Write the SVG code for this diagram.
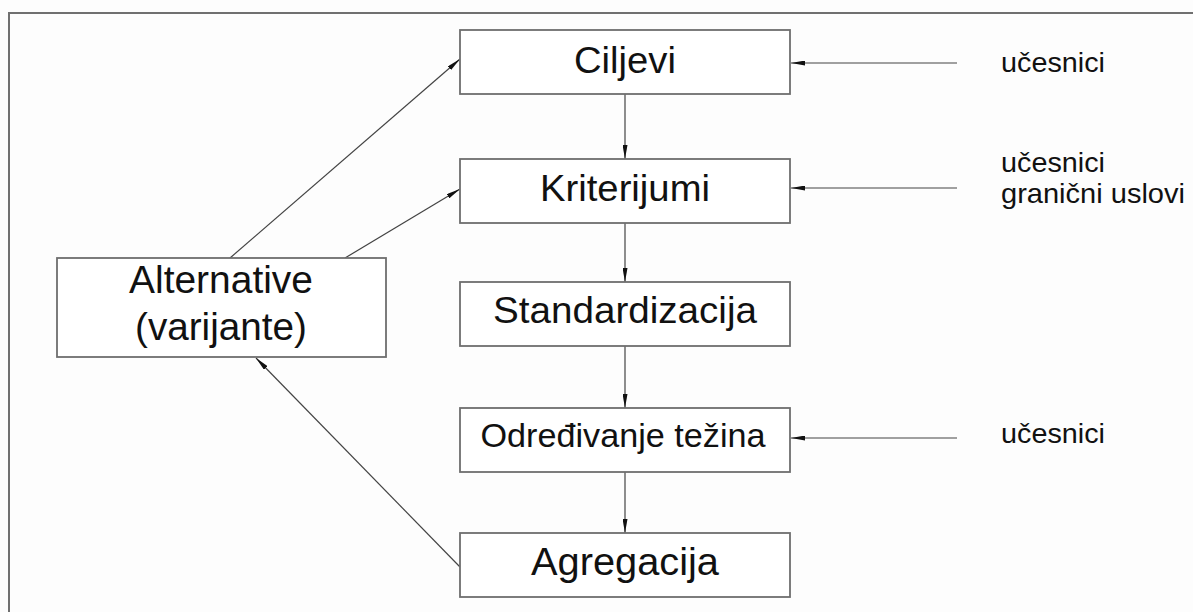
<svg xmlns="http://www.w3.org/2000/svg" width="1193" height="612" viewBox="0 0 1193 612">
<defs>
<style>
.box{fill:#fff;stroke:#6e6e6e;stroke-width:1.8}
.t{font-family:"Liberation Sans",Arial,sans-serif;fill:#111;text-anchor:middle}
.lbl{font-family:"Liberation Sans",Arial,sans-serif;fill:#111;font-size:28.5px}
.c{stroke:#444;stroke-width:1.2;fill:none;marker-end:url(#ah)}
</style>
<marker id="ah" viewBox="0 0 14 5" refX="14" refY="2.5" markerWidth="14" markerHeight="5" markerUnits="userSpaceOnUse" orient="auto">
<path d="M0,0 L14,2.5 L0,5 Z" fill="#111"/>
</marker>
</defs>
<rect width="1193" height="612" fill="#fdfdfd"/>
<path d="M9,613 V13 H1194" fill="none" stroke="#707070" stroke-width="2"/>
<g id="connectors">
<line class="c" x1="625" y1="94" x2="625" y2="159"/>
<line class="c" x1="625" y1="223" x2="625" y2="282"/>
<line class="c" x1="625" y1="346" x2="625" y2="408"/>
<line class="c" x1="625" y1="472" x2="625" y2="533"/>
<line class="c" x1="957" y1="63" x2="791" y2="63"/>
<line class="c" x1="957" y1="188" x2="791" y2="188"/>
<line class="c" x1="957" y1="438" x2="791" y2="438"/>
<line class="c" x1="230" y1="258" x2="460" y2="59"/>
<line class="c" x1="345" y1="258" x2="460" y2="189"/>
<line class="c" x1="460" y1="567" x2="256" y2="358"/>
</g>
<g id="ciljevi">
<rect class="box" x="460" y="30" width="330" height="64"/>
<text class="t" x="625" y="73" font-size="37" textLength="102" lengthAdjust="spacingAndGlyphs">Ciljevi</text>
</g>
<g id="kriterijumi">
<rect class="box" x="460" y="159" width="330" height="64"/>
<text class="t" x="625" y="201" font-size="37" textLength="170" lengthAdjust="spacingAndGlyphs">Kriterijumi</text>
</g>
<g id="standardizacija">
<rect class="box" x="460" y="282" width="330" height="64"/>
<text class="t" x="625" y="323" font-size="37" textLength="264" lengthAdjust="spacingAndGlyphs">Standardizacija</text>
</g>
<g id="odredjivanje">
<rect class="box" x="460" y="408" width="330" height="64"/>
<text class="t" x="623" y="447" font-size="33" textLength="285" lengthAdjust="spacingAndGlyphs">Određivanje težina</text>
</g>
<g id="agregacija">
<rect class="box" x="460" y="533" width="330" height="64"/>
<text class="t" x="625" y="575" font-size="38" textLength="188" lengthAdjust="spacingAndGlyphs">Agregacija</text>
</g>
<g id="alternative">
<rect class="box" x="57" y="258" width="329" height="99"/>
<text class="t" x="221" y="293" font-size="38" textLength="184" lengthAdjust="spacingAndGlyphs">Alternative</text>
<text class="t" x="221" y="340" font-size="38" textLength="172" lengthAdjust="spacingAndGlyphs">(varijante)</text>
</g>
<g id="labels">
<text class="lbl" x="1001" y="72" textLength="104" lengthAdjust="spacingAndGlyphs">učesnici</text>
<text class="lbl" x="1001" y="172" textLength="104" lengthAdjust="spacingAndGlyphs">učesnici</text>
<text class="lbl" x="1001" y="203" textLength="184" lengthAdjust="spacingAndGlyphs">granični uslovi</text>
<text class="lbl" x="1001" y="443" textLength="104" lengthAdjust="spacingAndGlyphs">učesnici</text>
</g>
</svg>
